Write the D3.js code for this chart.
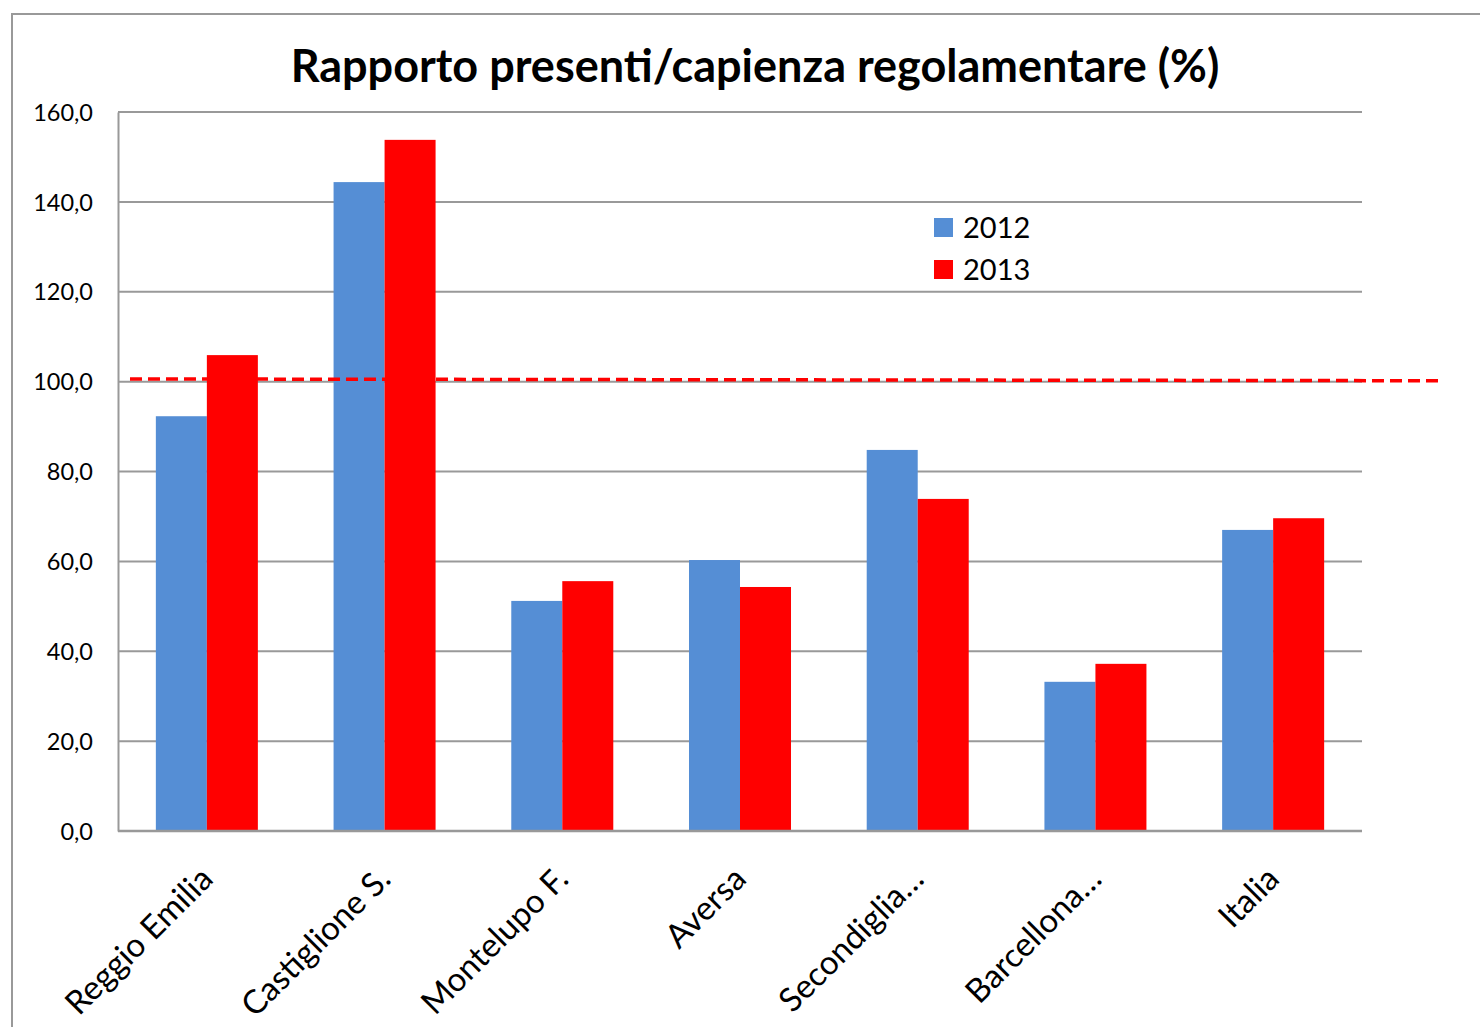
<!DOCTYPE html>
<html><head><meta charset="utf-8">
<script src="https://cdn.jsdelivr.net/npm/d3@7"></script>
<style>body{margin:0;background:#fff}svg{display:block}text{font-family:Lato,"Open Sans",sans-serif}</style>
</head><body><svg id="c" width="1480" height="1027"></svg>
<script>
const categories = ["Reggio Emilia","Castiglione S.","Montelupo F.","Aversa","Secondiglia…","Barcellona…","Italia"];
const series = ["2012","2013"];
const values2012 = [92.3,144.4,51.2,60.3,84.8,33.2,67.0];
const values2013 = [105.9,153.8,55.6,54.3,73.9,37.2,69.6];
const tickValues = [0,20,40,60,80,100,120,140,160];
const refLine = [100.6,100.2];
const colors = ["#558ed5","#ff0000"];

const svg = d3.select("#c");
const L=118,R=1362,T=112,B=831;
svg.append("rect").attr("x",12).attr("y",14).attr("width",1500).attr("height",1100)
  .attr("fill","none").attr("stroke","#999").attr("stroke-width",2);

const y = d3.scaleLinear().domain([0,160]).range([B,T]);
const x = d3.scaleBand().domain(categories).range([L,R]).paddingInner(0.426).paddingOuter(0.213);
const xs = d3.scaleBand().domain(series).range([0,x.bandwidth()]);

svg.append("g").selectAll("line").data(tickValues.filter(d=>d>0)).join("line")
  .attr("x1",L).attr("x2",R).attr("y1",d=>y(d)).attr("y2",d=>y(d))
  .attr("stroke","#999").attr("stroke-width",2);

const fmt = d=>d.toFixed(1).replace(".",",");
const yAxis = svg.append("g").attr("transform",`translate(${L},0)`)
  .call(d3.axisLeft(y).tickValues(tickValues).tickFormat(fmt).tickSize(0).tickPadding(25));
yAxis.select(".domain").attr("stroke","#999").attr("stroke-width",2);
yAxis.selectAll("text").attr("font-size",23.5).attr("fill","#000").attr("dy","0.35em").style("font-family","Lato,'Open Sans',sans-serif");

const data = categories.map((c,i)=>({c, v:[values2012[i],values2013[i]]}));
const g = svg.append("g");
data.forEach(d=>{
  series.forEach((s,j)=>{
    g.append("rect").attr("x",x(d.c)+xs(s)).attr("width",xs.bandwidth())
      .attr("y",y(d.v[j])).attr("height",B-y(d.v[j])).attr("fill",colors[j]);
  });
});

svg.append("line").attr("x1",L).attr("x2",R).attr("y1",B).attr("y2",B).attr("stroke","#999").attr("stroke-width",2.5);

const xAxis = svg.append("g").attr("transform",`translate(0,${B})`)
  .call(d3.axisBottom(x).tickSize(0).tickPadding(0));
xAxis.select(".domain").remove();
xAxis.selectAll("text").attr("font-size",33).attr("fill","#000")
  .attr("text-anchor","end").attr("dy",0).attr("y",0)
  .attr("transform","translate(8,50) rotate(-45)").style("font-family","Lato,'Open Sans',sans-serif");

svg.append("line").attr("x1",130).attr("x2",1438).attr("y1",y(refLine[0])).attr("y2",y(refLine[1]))
  .attr("stroke","#ff0000").attr("stroke-width",3.5).attr("stroke-dasharray","12,6");

svg.append("text").attr("x",755).attr("y",82).attr("text-anchor","middle")
  .attr("font-size",45).attr("font-weight","bold").text("Rapporto presenti/capienza regolamentare (%)");

const lg = svg.append("g").attr("transform","translate(934,218)");
series.forEach((s,j)=>{
  lg.append("rect").attr("x",0).attr("y",j*42).attr("width",19).attr("height",19).attr("fill",colors[j]);
  lg.append("text").attr("x",29).attr("y",j*42+20).attr("font-size",29).text(s);
});
</script></body></html>
